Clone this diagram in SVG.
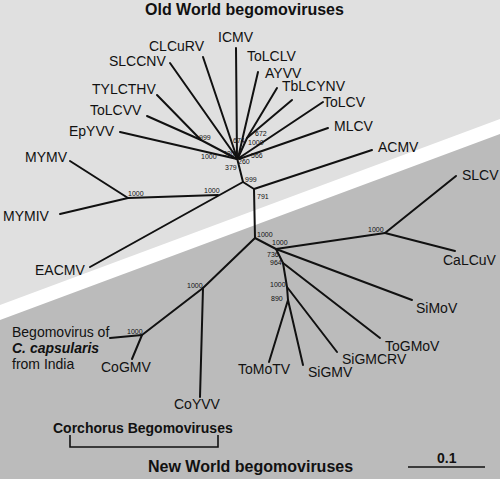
<svg xmlns="http://www.w3.org/2000/svg" width="500" height="479" viewBox="0 0 500 479">
<style>
.lf{font-family:"Liberation Sans",Arial,sans-serif;font-size:14px;fill:#111}
.bs{font-family:"Liberation Sans",Arial,sans-serif;font-size:7px;fill:#111}
.ti{font-family:"Liberation Sans",Arial,sans-serif;font-size:16px;font-weight:bold;fill:#111}
.br{font-family:"Liberation Sans",Arial,sans-serif;font-size:14px;font-weight:bold;fill:#111}
.e{stroke:#111;stroke-width:2;fill:none;stroke-linecap:round;stroke-linejoin:round}
.bk{stroke:#111;stroke-width:1.6;fill:none}
</style>
<g id="background">
<rect x="0" y="0" width="500" height="479" fill="#ffffff"/>
<polygon points="0,0 500,0 500,119 0,305" fill="#e0e0e0"/>
<polygon points="0,320 500,134 500,479 0,479" fill="#bbbbbb"/>
</g>
<g id="connectors">
<path class="e" d="M157,95 L201,140 L237,159"/>
<path class="e" d="M147,116 L201,140"/>
<path class="e" d="M120,132 L237,159"/>
<path class="e" d="M170,63 L237,158"/>
<path class="e" d="M203,57 L237,158"/>
<path class="e" d="M236,48 L237,158"/>
<path class="e" d="M258,72 L238,158"/>
<path class="e" d="M277,88 L247,138 L238,158"/>
<path class="e" d="M292,100 L247,138"/>
<path class="e" d="M323,102 L239,158"/>
<path class="e" d="M328,128 L239,159"/>
<path class="e" d="M237,158 L243,182 L254,189"/>
<path class="e" d="M254,189 L372,150"/>
<path class="e" d="M243,182 L90,267"/>
<path class="e" d="M218,195 L128,198"/>
<path class="e" d="M70,161 L128,198 L60,214"/>
<path class="e" d="M254,189 L255,238"/>
<path class="e" d="M255,238 L276,249 L385,233"/>
<path class="e" d="M456,176 L385,233 L455,251"/>
<path class="e" d="M276,249 L412,300"/>
<path class="e" d="M276,249 L283,263 L287,287 L288,300"/>
<path class="e" d="M283,263 L380,338"/>
<path class="e" d="M287,287 L337,352"/>
<path class="e" d="M269,362 L288,300 L303,365"/>
<path class="e" d="M255,238 L203,288 L142,335"/>
<path class="e" d="M203,288 L200,397"/>
<path class="e" d="M110,338 L142,335 L132,359"/>
</g>
<g id="titles">
<text class="ti" x="145" y="15">Old World begomoviruses</text>
<text class="ti" x="148" y="472">New World begomoviruses</text>
</g>
<g id="ICMV"><text class="lf" x="218" y="42">ICMV</text></g>
<g id="CLCuRV"><text class="lf" x="149" y="51">CLCuRV</text></g>
<g id="SLCCNV"><text class="lf" x="109" y="66">SLCCNV</text></g>
<g id="TYLCTHV"><text class="lf" x="92" y="94">TYLCTHV</text></g>
<g id="ToLCVV"><text class="lf" x="90" y="115">ToLCVV</text></g>
<g id="EpYVV"><text class="lf" x="69" y="136">EpYVV</text></g>
<g id="MYMV"><text class="lf" x="25" y="162">MYMV</text></g>
<g id="MYMIV"><text class="lf" x="3" y="221">MYMIV</text></g>
<g id="EACMV"><text class="lf" x="35" y="275">EACMV</text></g>
<g id="ToLCLV"><text class="lf" x="247" y="61">ToLCLV</text></g>
<g id="AYVV"><text class="lf" x="265" y="78">AYVV</text></g>
<g id="TbLCYNV"><text class="lf" x="282" y="91">TbLCYNV</text></g>
<g id="ToLCV"><text class="lf" x="323" y="107">ToLCV</text></g>
<g id="MLCV"><text class="lf" x="334" y="131">MLCV</text></g>
<g id="ACMV"><text class="lf" x="378" y="152">ACMV</text></g>
<g id="SLCV"><text class="lf" x="462" y="180">SLCV</text></g>
<g id="CaLCuV"><text class="lf" x="443" y="265">CaLCuV</text></g>
<g id="SiMoV"><text class="lf" x="416" y="313">SiMoV</text></g>
<g id="ToGMoV"><text class="lf" x="385" y="351">ToGMoV</text></g>
<g id="SiGMCRV"><text class="lf" x="342" y="364">SiGMCRV</text></g>
<g id="SiGMV"><text class="lf" x="308" y="377">SiGMV</text></g>
<g id="ToMoTV"><text class="lf" x="238" y="374">ToMoTV</text></g>
<g id="CoGMV"><text class="lf" x="101" y="372">CoGMV</text></g>
<g id="CoYVV"><text class="lf" x="174" y="409">CoYVV</text></g>
<g id="Begomovirus-Ccapsularis">
<text class="lf" x="12" y="337">Begomovirus of</text>
<text class="lf" x="12" y="353" font-weight="bold" font-style="italic">C. capsularis</text>
<text class="lf" x="12" y="369">from India</text>
</g>
<g id="bootstrap">
<text class="bs" x="199" y="140">999</text>
<text class="bs" x="233" y="143">674</text>
<text class="bs" x="255" y="136">672</text>
<text class="bs" x="248" y="145">1000</text>
<text class="bs" x="201" y="159">1000</text>
<text class="bs" x="223" y="156">380</text>
<text class="bs" x="251" y="158">566</text>
<text class="bs" x="238" y="164">260</text>
<text class="bs" x="225" y="170">379</text>
<text class="bs" x="245" y="182">999</text>
<text class="bs" x="204" y="193">1000</text>
<text class="bs" x="128" y="196">1000</text>
<text class="bs" x="257" y="199">791</text>
<text class="bs" x="257" y="237">1000</text>
<text class="bs" x="272" y="245">1000</text>
<text class="bs" x="368" y="232">1000</text>
<text class="bs" x="267" y="257">736</text>
<text class="bs" x="270" y="265">964</text>
<text class="bs" x="270" y="287">1000</text>
<text class="bs" x="271" y="301">890</text>
<text class="bs" x="187" y="288">1000</text>
<text class="bs" x="127" y="334">1000</text>
</g>
<g id="corchorus-bracket">
<text class="br" x="53" y="433">Corchorus Begomoviruses</text>
<path class="bk" d="M70,435 L70,447 L218,447 L218,435"/>
</g>
<g id="scale-bar">
<text class="br" x="437" y="463" font-size="13">0.1</text>
<line class="bk" x1="408" y1="467" x2="485" y2="467"/>
</g>
</svg>
